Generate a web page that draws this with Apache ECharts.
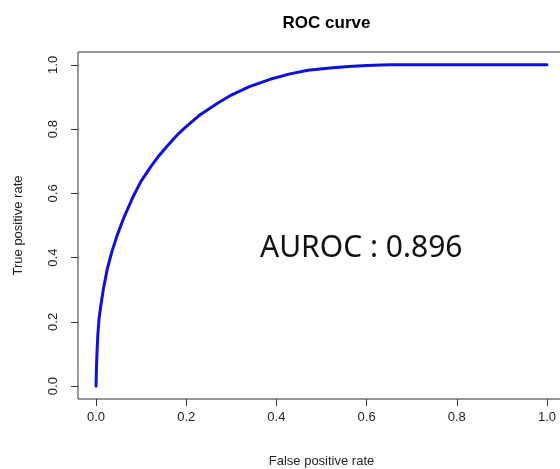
<!DOCTYPE html>
<html>
<head>
<meta charset="utf-8">
<script src="https://cdn.jsdelivr.net/npm/echarts@6/dist/echarts.min.js"></script>
<style>html,body{margin:0;padding:0;background:#fff;}#c{width:560px;height:469px;}</style>
</head>
<body>
<div id="c"></div>
<script>
var titleText = "ROC curve";
var xName = "False positive rate";
var yName = "True positive rate";
var annotation = "AUROC : 0.896";
var tickValues = [0, 0.2, 0.4, 0.6, 0.8, 1.0];
var fpr = [0, 0.0005, 0.001, 0.002, 0.004, 0.0067, 0.01, 0.016, 0.025, 0.035, 0.047, 0.061, 0.083, 0.10, 0.12, 0.14, 0.157, 0.18, 0.20, 0.231, 0.271, 0.30, 0.34, 0.386, 0.43, 0.47, 0.519, 0.56, 0.6, 0.65, 0.8, 1.0];
var tpr = [0, 0.03, 0.06, 0.10, 0.16, 0.21, 0.245, 0.30, 0.365, 0.418, 0.47, 0.522, 0.592, 0.638, 0.68, 0.718, 0.746, 0.782, 0.808, 0.845, 0.882, 0.906, 0.932, 0.955, 0.972, 0.983, 0.990, 0.995, 0.998, 1.0, 1.0, 1.0];

var data = fpr.map(function (x, i) { return [x, tpr[i]]; });
var font = "'Liberation Sans', Arial, sans-serif";
var chart = echarts.init(document.getElementById('c'), null, {renderer: 'canvas'});
chart.setOption({
  animation: false,
  backgroundColor: '#ffffff',
  title: {
    text: titleText, left: 321.5, top: 10, textAlign: 'center',
    textStyle: {fontFamily: font, fontSize: 17, fontWeight: 'bold', color: '#000'}
  },
  grid: {left: 78, top: 52, width: 487, height: 347, outerBoundsMode: 'none', containLabel: false,
    show: true, borderColor: '#333', borderWidth: 1, backgroundColor: 'transparent'},
  xAxis: {
    type: 'value', min: -0.04, max: 1.04,
    name: xName, nameLocation: 'middle', nameGap: 56,
    nameTextStyle: {fontFamily: font, fontSize: 13, color: '#222', verticalAlign: 'top'},
    axisLine: {show: false, onZero: false},
    splitLine: {show: false},
    axisTick: {show: true, inside: false, length: 7, customValues: tickValues, lineStyle: {color: '#333'}},
    axisLabel: {customValues: tickValues, margin: 12, fontFamily: font, fontSize: 13, color: '#222',
      formatter: function (v) { return v.toFixed(1); }}
  },
  yAxis: {
    type: 'value', min: -0.04, max: 1.04,
    name: yName, nameLocation: 'middle', nameGap: 53, nameRotate: 90,
    nameTextStyle: {fontFamily: font, fontSize: 13, color: '#222'},
    axisLine: {show: false, onZero: false},
    splitLine: {show: false},
    axisTick: {show: true, inside: false, length: 7, customValues: tickValues, lineStyle: {color: '#333'}},
    axisLabel: {customValues: tickValues, rotate: 90, margin: 18, fontFamily: font, fontSize: 13, color: '#222',
      formatter: function (v) { return v.toFixed(1); }}
  },
  graphic: [{
    type: 'text', left: 260, top: 233,
    style: {text: annotation, fontFamily: "'Noto Sans', sans-serif", fontSize: 30, fill: '#111'}
  }],
  series: [{
    type: 'line', data: data, showSymbol: false, smooth: false,
    lineStyle: {color: '#1010DD', width: 3, join: 'round', cap: 'round'}, clip: false
  }]
});
</script>
</body>
</html>
